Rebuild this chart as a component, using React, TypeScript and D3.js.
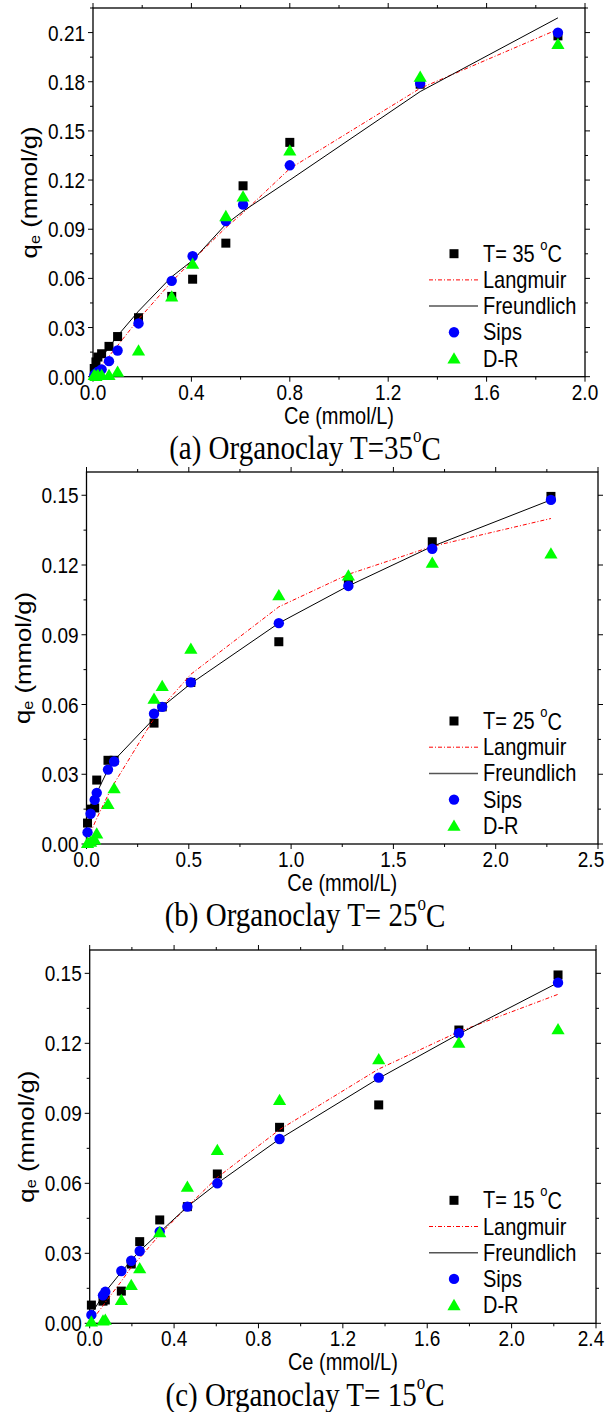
import React from 'react';
import * as d3 from 'd3';

// Panel (a) T = 35 C
const ceA = [0.005, 0.012, 0.02, 0.035, 0.065, 0.1, 0.185, 0.32, 0.405, 0.54, 0.61, 0.8, 1.33, 1.89];
const expA = [0.005, 0.009, 0.012, 0.014, 0.0185, 0.0245, 0.036, 0.049, 0.0595, 0.0815, 0.1165, 0.143, 0.1785, 0.208];
const langA = [0.001, 0.0024, 0.004, 0.007, 0.0125, 0.019, 0.035, 0.058, 0.071, 0.091, 0.1, 0.127, 0.176, 0.212];
const freuA = [0.003, 0.0055, 0.0075, 0.0115, 0.018, 0.025, 0.04, 0.061, 0.071, 0.093, 0.101, 0.12, 0.174, 0.219];
const sipsA = [0.001, 0.002, 0.003, 0.0045, 0.0095, 0.016, 0.0325, 0.0585, 0.0735, 0.095, 0.105, 0.129, 0.179, 0.21];
const drA = [0.001, 0.0005, 0.001, 0.001, 0.001, 0.003, 0.016, 0.049, 0.069, 0.098, 0.11, 0.138, 0.183, 0.203];

// Panel (b) T = 25 C
const ceB = [0.005, 0.02, 0.04, 0.05, 0.105, 0.135, 0.33, 0.37, 0.51, 0.94, 1.28, 1.69, 2.27];
const expB = [0.009, 0.015, 0.0155, 0.0275, 0.036, 0.036, 0.052, 0.059, 0.0695, 0.087, 0.113, 0.13, 0.1495];
const langB = [0.001, 0.005, 0.009, 0.011, 0.021, 0.026, 0.054, 0.059, 0.073, 0.102, 0.116, 0.128, 0.14];
const freuB = [0.008, 0.013, 0.019, 0.022, 0.032, 0.036, 0.054, 0.059, 0.069, 0.095, 0.111, 0.128, 0.148];
const sipsB = [0.005, 0.013, 0.019, 0.022, 0.032, 0.0355, 0.056, 0.059, 0.0695, 0.095, 0.111, 0.127, 0.148];
const drB = [0.0005, 0.001, 0.002, 0.0045, 0.0172, 0.024, 0.0625, 0.068, 0.084, 0.107, 0.1155, 0.121, 0.125];

// Panel (c) T = 15 C
const ceC = [0.008, 0.063, 0.074, 0.15, 0.197, 0.237, 0.332, 0.463, 0.605, 0.9, 1.37, 1.75, 2.22];
const expC = [0.0078, 0.0095, 0.01, 0.0138, 0.0254, 0.035, 0.0443, 0.05, 0.064, 0.084, 0.0936, 0.1257, 0.1493];
const langC = [0.001, 0.0075, 0.009, 0.018, 0.024, 0.028, 0.038, 0.05, 0.0625, 0.083, 0.109, 0.125, 0.141];
const freuC = [0.004, 0.012, 0.0135, 0.022, 0.027, 0.031, 0.039, 0.05, 0.06, 0.079, 0.105, 0.124, 0.146];
const sipsC = [0.0036, 0.012, 0.0135, 0.0224, 0.0268, 0.031, 0.0393, 0.05, 0.06, 0.079, 0.1053, 0.1243, 0.146];
const drC = [0.0008, 0.0012, 0.0015, 0.01, 0.0164, 0.0236, 0.039, 0.0585, 0.0743, 0.0957, 0.1132, 0.1203, 0.126];

const legendNames = ['Langmuir', 'Freundlich', 'Sips', 'D-R'];

const SANS = 'Arial, "Liberation Sans", sans-serif';
const SERIF = '"Times New Roman", "Liberation Serif", serif';
const SY = 1.17; // the original figure is a bit stretched vertically

// text placed at (x,y), glyphs stretched vertically like the source image
const Txt = ({ x, y, size, anchor = 'start', font = SANS, rot = false, children }) => (
  <g transform={`translate(${x},${y}) scale(1,${SY})${rot ? ' rotate(-90)' : ''}`}>
    <text x={0} y={0} textAnchor={anchor} dominantBaseline="central" fontFamily={font} fontSize={size}>
      {children}
    </text>
  </g>
);

const Panel = ({ frame, xMax, xStep, yMax, yStep, ce, exp, lang, freu, sips, dr, temp, label, captionTemp }) => {
  const { left, right, top, bottom } = frame;
  const x = d3.scaleLinear().domain([0, xMax]).range([left, right]);
  const y = d3.scaleLinear().domain([0, yMax]).range([bottom, top]);

  const nx = Math.round(xMax / xStep);
  const xMajor = d3.range(0, nx + 1).map(i => i * xStep);
  const xMinor = d3.range(0, nx).map(i => (i + 0.5) * xStep);
  const ny = Math.floor(yMax / yStep + 1e-9);
  const yMajor = d3.range(0, ny + 1).map(i => i * yStep);
  const yMinor = d3.range(0, ny + 1).map(i => (i + 0.5) * yStep).filter(v => v <= yMax);

  const line = d3.line<number>().x((_, i) => x(ce[i])).y(v => y(v));

  const tri = (cx, cy, s = 12) =>
    `M${cx},${cy - s * 0.52}L${cx + s * 0.55},${cy + s * 0.42}L${cx - s * 0.55},${cy + s * 0.42}Z`;

  const lx = 454;
  const tx = 483;
  const ly0 = bottom - 123;
  const rowH = 26.2;

  return (
    <g>
      <rect x={left} y={top} width={right - left} height={bottom - top} fill="none" stroke="#000" strokeWidth={1.3} />

      {xMajor.map(v => (
        <g key={'xm' + v}>
          <line x1={x(v)} x2={x(v)} y1={bottom} y2={bottom + 5} stroke="#000" />
          <line x1={x(v)} x2={x(v)} y1={top} y2={top - 5} stroke="#000" />
          <Txt x={Math.min(x(v), 591)} y={bottom + 15} size={19} anchor="middle">
            {v.toFixed(1)}
          </Txt>
        </g>
      ))}
      {xMinor.map(v => (
        <g key={'xn' + v}>
          <line x1={x(v)} x2={x(v)} y1={bottom} y2={bottom + 3} stroke="#000" />
          <line x1={x(v)} x2={x(v)} y1={top} y2={top - 3} stroke="#000" />
        </g>
      ))}

      {yMajor.map(v => (
        <g key={'ym' + v}>
          <line x1={left} x2={left - 5} y1={y(v)} y2={y(v)} stroke="#000" />
          <line x1={right} x2={right + 5} y1={y(v)} y2={y(v)} stroke="#000" />
          <Txt x={left - 8} y={y(v)} size={19} anchor="end">
            {v.toFixed(2)}
          </Txt>
        </g>
      ))}
      {yMinor.map(v => (
        <g key={'yn' + v}>
          <line x1={left} x2={left - 3} y1={y(v)} y2={y(v)} stroke="#000" />
          <line x1={right} x2={right + 3} y1={y(v)} y2={y(v)} stroke="#000" />
        </g>
      ))}

      <Txt x={(left + right) / 2} y={bottom + 39} size={20} anchor="middle">
        Ce (mmol/L)
      </Txt>
      <Txt x={left - 64} y={(top + bottom) / 2} size={22} anchor="middle" rot>
        q<tspan fontSize={14} dy={5}>e</tspan>
        <tspan dy={-5}> (mmol/g)</tspan>
      </Txt>

      {exp.map((v, i) => (
        <rect key={'e' + i} x={x(ce[i]) - 4.5} y={y(v) - 4.5} width={9} height={9} fill="#000" />
      ))}
      <path d={line(lang) || ''} fill="none" stroke="#ff0000" strokeWidth={1} strokeDasharray="4,2,1,2" />
      <path d={line(freu) || ''} fill="none" stroke="#000" strokeWidth={1} />
      {sips.map((v, i) => (
        <circle key={'s' + i} cx={x(ce[i])} cy={y(v)} r={5.2} fill="#0000ff" />
      ))}
      {dr.map((v, i) => (
        <path key={'d' + i} d={tri(x(ce[i]), y(v))} fill="#00ff00" />
      ))}

      <rect x={lx - 4.5} y={ly0 - 4.5} width={9} height={9} fill="#000" />
      <Txt x={tx} y={ly0} size={20}>
        {`T= ${temp} `}
        <tspan fontSize={13} dy={-8}>o</tspan>
        <tspan dy={8}>C</tspan>
      </Txt>
      <line x1={lx - 25} x2={lx + 24} y1={ly0 + rowH} y2={ly0 + rowH} stroke="#ff0000" strokeDasharray="4,2,1,2" />
      <line x1={lx - 25} x2={lx + 24} y1={ly0 + rowH * 2} y2={ly0 + rowH * 2} stroke="#555" strokeWidth={1.5} />
      <circle cx={lx} cy={ly0 + rowH * 3} r={5.2} fill="#0000ff" />
      <path d={tri(lx, ly0 + rowH * 4)} fill="#00ff00" />
      {legendNames.map((n, i) => (
        <Txt key={n} x={tx} y={ly0 + rowH * (i + 1)} size={20}>
          {n}
        </Txt>
      ))}

      <Txt x={305} y={bottom + 71} size={29} anchor="middle" font={SERIF}>
        {`(${label}) Organoclay T=${captionTemp}`}
        <tspan fontSize={17} dy={-10}>o</tspan>
        <tspan dy={10}>C</tspan>
      </Txt>
    </g>
  );
};

const App = () => (
  <svg width={606} height={1412} style={{ display: 'block', position: 'absolute', left: 0, top: 0, background: '#fff' }}>
    <rect width={606} height={1412} fill="#fff" />
    <Panel
      frame={{ left: 93, right: 585, top: 8, bottom: 376.7 }}
      xMax={2} xStep={0.4} yMax={0.225} yStep={0.03}
      ce={ceA} exp={expA} lang={langA} freu={freuA} sips={sipsA} dr={drA}
      temp="35" label="a" captionTemp="35"
    />
    <Panel
      frame={{ left: 86.5, right: 598, top: 472, bottom: 844 }}
      xMax={2.5} xStep={0.5} yMax={0.16} yStep={0.03}
      ce={ceB} exp={expB} lang={langB} freu={freuB} sips={sipsB} dr={drB}
      temp="25" label="b" captionTemp=" 25"
    />
    <Panel
      frame={{ left: 89.7, right: 596, top: 950, bottom: 1323.3 }}
      xMax={2.4} xStep={0.4} yMax={0.16} yStep={0.03}
      ce={ceC} exp={expC} lang={langC} freu={freuC} sips={sipsC} dr={drC}
      temp="15" label="c" captionTemp=" 15"
    />
  </svg>
);

export default App;
